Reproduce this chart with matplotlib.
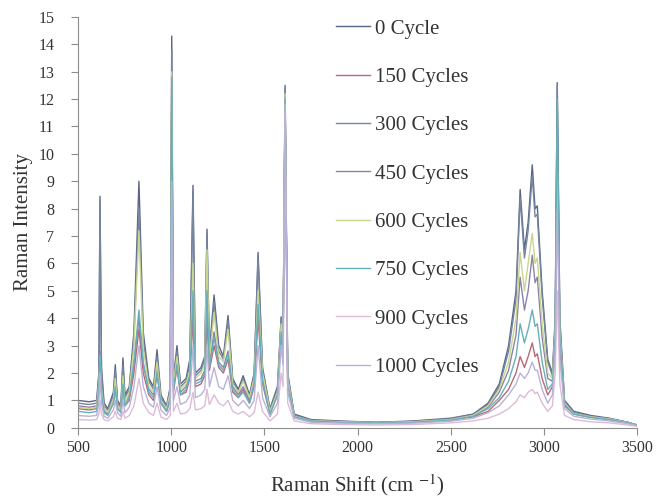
import matplotlib
matplotlib.use("Agg")
import matplotlib.pyplot as plt

plt.rcParams["font.family"] = ["Liberation Serif", "DejaVu Serif"]
plt.rcParams["mathtext.fontset"] = "stix"

# Raman shift sample points (cm-1), shared by all series
shift = [500, 560, 600, 612, 618, 626, 640, 660, 690, 700,
         712, 730, 741, 752, 775, 800, 827, 850, 880, 905,
         924, 945, 975, 995, 1003, 1012, 1031, 1050, 1080, 1100,
         1117, 1130, 1160, 1180, 1192, 1205, 1230, 1255, 1280, 1305,
         1330, 1360, 1386, 1420, 1445, 1466, 1490, 1530, 1570, 1590,
         1600, 1611, 1625, 1660, 1750, 1900, 2100, 2300, 2500, 2620,
         2700, 2760, 2810, 2850, 2872, 2895, 2915, 2937, 2952, 2964,
         2990, 3020, 3045, 3060, 3071, 3085, 3110, 3160, 3250, 3350,
         3450, 3500]

labels = ["0 Cycle", "150 Cycles", "300 Cycles", "450 Cycles",
          "600 Cycles", "750 Cycles", "900 Cycles", "1000 Cycles"]

cycle_0 = [1.0, 0.95, 1.0, 2.0, 8.45, 2.2, 0.9, 0.7, 1.3, 2.3,
           1.0, 0.8, 2.55, 1.2, 1.5, 3.5, 9.0, 3.5, 1.8, 1.5,
           2.85, 1.2, 0.8, 1.5, 14.3, 1.8, 3.0, 1.6, 1.8, 2.5,
           8.85, 2.0, 2.2, 2.6, 7.25, 2.8, 4.85, 3.0, 2.6, 4.1,
           1.8, 1.4, 1.9, 1.2, 2.0, 6.4, 2.2, 0.7, 1.5, 4.05,
           3.0, 12.5, 2.0, 0.5, 0.3, 0.25, 0.2, 0.25, 0.35, 0.5,
           0.9, 1.6, 3.0, 5.0, 8.7, 6.5, 7.5, 9.6, 8.0, 8.1,
           5.0, 2.5, 2.0, 4.0, 12.6, 4.0, 1.0, 0.6, 0.45, 0.35,
           0.2, 0.1]
cycle_150 = [0.7, 0.65, 0.7, 1.5, 2.8, 1.3, 0.6, 0.5, 0.9, 1.5,
             0.7, 0.6, 1.6, 0.8, 1.0, 2.0, 3.6, 2.0, 1.2, 1.0,
             2.0, 0.9, 0.6, 1.0, 12.5, 1.3, 2.2, 1.2, 1.3, 1.8,
             4.0, 1.5, 1.6, 1.9, 4.0, 2.1, 3.0, 2.2, 2.0, 2.5,
             1.3, 1.1, 1.4, 0.9, 1.5, 4.0, 1.6, 0.5, 1.2, 3.5,
             2.6, 12.0, 1.6, 0.4, 0.25, 0.2, 0.18, 0.2, 0.28, 0.4,
             0.6, 1.0, 1.4, 2.0, 2.6, 2.2, 2.6, 3.1, 2.6, 2.7,
             1.8, 1.2, 1.5, 3.0, 9.6, 3.0, 0.8, 0.5, 0.38, 0.3,
             0.18, 0.1]
cycle_300 = [0.9, 0.85, 0.9, 1.9, 8.3, 2.0, 0.8, 0.65, 1.2, 2.1,
             0.9, 0.75, 2.3, 1.1, 1.4, 3.2, 8.0, 3.2, 1.7, 1.4,
             2.6, 1.1, 0.75, 1.4, 13.8, 1.7, 2.8, 1.5, 1.7, 2.3,
             8.5, 1.9, 2.1, 2.5, 7.0, 2.6, 4.6, 2.8, 2.5, 3.9,
             1.7, 1.3, 1.8, 1.1, 1.9, 6.2, 2.1, 0.65, 1.4, 4.0,
             3.0, 12.4, 1.9, 0.45, 0.28, 0.23, 0.2, 0.23, 0.33, 0.48,
             0.85, 1.5, 2.8, 4.7, 8.4, 6.2, 7.2, 9.2, 7.7, 7.8,
             4.8, 2.4, 1.9, 3.8, 12.5, 3.8, 0.95, 0.55, 0.42, 0.33,
             0.2, 0.1]
cycle_450 = [0.8, 0.75, 0.8, 1.6, 2.5, 1.5, 0.7, 0.55, 1.0, 1.7,
             0.8, 0.65, 1.8, 0.9, 1.2, 2.3, 4.0, 2.3, 1.4, 1.2,
             2.2, 1.0, 0.65, 1.2, 12.0, 1.5, 2.4, 1.3, 1.5, 2.0,
             4.5, 1.7, 1.8, 2.1, 4.5, 2.3, 3.5, 2.4, 2.2, 2.8,
             1.5, 1.2, 1.5, 1.0, 1.7, 4.5, 1.8, 0.55, 1.3, 3.6,
             2.8, 12.0, 1.7, 0.42, 0.26, 0.22, 0.19, 0.22, 0.3, 0.45,
             0.75, 1.3, 2.1, 3.4, 5.5, 4.3, 5.0, 6.3, 5.3, 5.5,
             3.3, 1.8, 1.7, 3.5, 11.0, 3.4, 0.9, 0.52, 0.4, 0.32,
             0.19, 0.1]
cycle_600 = [0.75, 0.7, 0.75, 1.6, 2.6, 1.4, 0.7, 0.55, 1.0, 1.8,
             0.8, 0.65, 1.9, 0.9, 1.3, 3.0, 7.2, 2.9, 1.5, 1.3,
             2.4, 1.0, 0.7, 1.3, 13.0, 1.6, 2.6, 1.4, 1.6, 2.1,
             6.0, 1.8, 2.0, 2.3, 6.5, 2.5, 4.2, 2.6, 2.4, 3.6,
             1.6, 1.3, 1.7, 1.1, 1.8, 5.0, 2.0, 0.6, 1.3, 3.8,
             2.9, 12.2, 1.8, 0.42, 0.26, 0.22, 0.19, 0.22, 0.3, 0.45,
             0.8, 1.4, 2.4, 4.0, 6.4, 5.0, 6.0, 7.1, 6.0, 6.2,
             3.8, 2.0, 1.8, 3.6, 9.6, 3.5, 0.9, 0.52, 0.4, 0.32,
             0.19, 0.1]
cycle_750 = [0.6, 0.55, 0.6, 1.4, 2.7, 1.3, 0.55, 0.45, 0.9, 1.5,
             0.7, 0.55, 1.6, 0.8, 1.1, 2.4, 4.3, 2.4, 1.3, 1.1,
             2.0, 0.9, 0.6, 1.1, 12.8, 1.4, 2.3, 1.2, 1.4, 1.9,
             5.0, 1.6, 1.7, 2.0, 5.0, 2.2, 3.3, 2.3, 2.1, 2.7,
             1.4, 1.1, 1.3, 0.9, 1.6, 4.5, 1.7, 0.5, 1.2, 3.5,
             2.7, 12.0, 1.6, 0.4, 0.25, 0.2, 0.18, 0.2, 0.28, 0.42,
             0.7, 1.1, 1.7, 2.6, 3.8, 3.1, 3.6, 4.3, 3.7, 3.8,
             2.4, 1.4, 1.6, 3.4, 12.0, 3.3, 0.85, 0.5, 0.38, 0.3,
             0.18, 0.1]
cycle_900 = [0.3, 0.28, 0.3, 0.5, 1.0, 0.5, 0.3, 0.25, 0.4, 0.6,
             0.35, 0.3, 0.6, 0.35, 0.45, 0.8, 1.8, 0.9, 0.55, 0.45,
             0.9, 0.4, 0.3, 0.45, 6.0, 0.6, 0.9, 0.5, 0.55, 0.7,
             1.3, 0.65, 0.7, 0.8, 1.4, 0.85, 1.2, 0.9, 0.8, 1.0,
             0.6, 0.5, 0.6, 0.4, 0.55, 1.3, 0.6, 0.25, 0.5, 2.0,
             1.5, 11.5, 0.9, 0.25, 0.15, 0.12, 0.1, 0.12, 0.18, 0.25,
             0.35, 0.5, 0.7, 0.95, 1.2, 1.1, 1.3, 1.4, 1.25, 1.3,
             0.9, 0.6, 0.8, 2.0, 5.0, 1.6, 0.45, 0.3, 0.22, 0.18,
             0.1, 0.05]
cycle_1000 = [0.45, 0.42, 0.45, 0.9, 2.0, 0.9, 0.42, 0.35, 0.65, 1.0,
              0.55, 0.42, 1.0, 0.55, 0.75, 1.5, 3.0, 1.5, 0.9, 0.75,
              1.5, 0.65, 0.45, 0.75, 9.0, 1.0, 1.5, 0.85, 0.95, 1.2,
              3.0, 1.1, 1.2, 1.4, 3.0, 1.5, 2.2, 1.5, 1.4, 1.9,
              1.0, 0.8, 1.0, 0.7, 1.0, 3.0, 1.1, 0.4, 0.9, 3.0,
              2.3, 11.8, 1.3, 0.35, 0.2, 0.17, 0.15, 0.17, 0.24, 0.35,
              0.55, 0.8, 1.2, 1.6, 2.0, 1.8, 2.0, 2.4, 2.1, 2.1,
              1.4, 0.9, 1.2, 2.8, 8.0, 2.5, 0.7, 0.42, 0.32, 0.25,
              0.15, 0.08]

series = [cycle_0, cycle_150, cycle_300, cycle_450,
          cycle_600, cycle_750, cycle_900, cycle_1000]
colors = ["#5b6585", "#b86a78", "#7486a0", "#8d83a8",
          "#c9d68e", "#66b0ba", "#dcbcd8", "#b9b2d8"]

fig = plt.figure(figsize=(6.61, 4.98), dpi=100)
ax = fig.add_axes([0.118, 0.141, 0.846, 0.825])

for ys, c, lab in zip(series, colors, labels):
    ax.plot(shift, ys, color=c, linewidth=1.0, label=lab)

ax.set_xlim(500, 3500)
ax.set_ylim(0, 15)
ax.set_xticks(range(500, 3501, 500))
ax.set_yticks(range(0, 16))
for side in ("top", "right"):
    ax.spines[side].set_visible(False)
for side in ("left", "bottom"):
    ax.spines[side].set_color("#8c8c8c")
ax.tick_params(colors="#8c8c8c", labelcolor="#333333", labelsize=11.5,
               length=5, direction="out")
ax.tick_params(axis="y", pad=12)

ax.set_xlabel("Raman Shift (cm $^{-1}$)", fontsize=15, color="#333333",
              labelpad=12)
ax.set_ylabel("Raman Intensity", fontsize=15, color="#333333", labelpad=4)

fig.legend(loc="upper left", bbox_to_anchor=(336 / 661, 1 - 19 / 498),
           frameon=False, fontsize=15, labelspacing=1.38,
           borderaxespad=0, borderpad=0,
           handlelength=1.63, handletextpad=0.24, labelcolor="#333333")

fig.savefig("out.png", dpi=100)
